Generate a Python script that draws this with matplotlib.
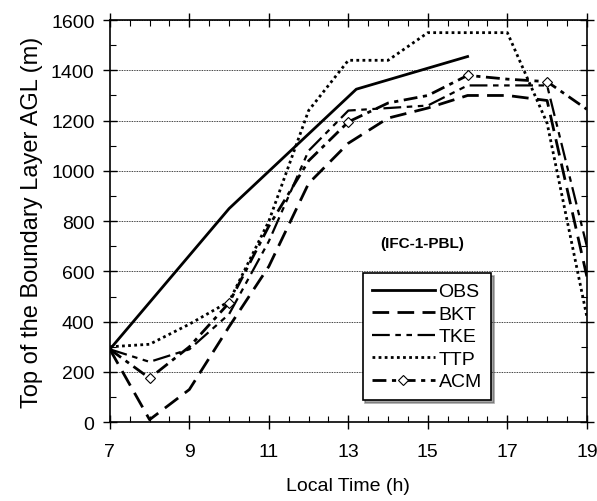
import matplotlib.pyplot as plt
from matplotlib.ticker import MultipleLocator

plt.rcParams['font.family'] = ['Liberation Sans', 'DejaVu Sans']

# Local time (h) and PBL top heights (m)
hours = [7, 8, 9, 10, 11, 12, 13, 14, 15, 16, 17, 18, 19]
obs_t = [7, 10, 13.2, 16]
obs = [290, 850, 1325, 1455]
bkt = [290, 10, 130, 380, 620, 950, 1110, 1210, 1250, 1300, 1300, 1280, 580]
tke = [290, 240, 290, 430, 720, 1080, 1240, 1250, 1260, 1340, 1340, 1340, 700]
ttp = [300, 310, 390, 480, 800, 1240, 1440, 1440, 1550, 1550, 1550, 1190, 420]
acm = [290, 175, 300, 475, 780, 1040, 1195, 1270, 1300, 1380, 1365, 1355, 1245]
acm_marks = [1, 3, 6, 9, 11]
xticks = [7, 9, 11, 13, 15, 17, 19]

fig = plt.figure(figsize=(5.97, 5.02), dpi=100)
ax = fig.add_axes([0.184, 0.157, 0.799, 0.801])

ax.plot(obs_t, obs, color='black', lw=2, ls='-', label='OBS')
ax.plot(hours, bkt, color='black', lw=2, ls=(0, (6, 3)), label='BKT')
ax.plot(hours, tke, color='black', lw=1.6, ls=(0, (8, 2.5, 2.5, 2.5, 2.5, 2.5)), label='TKE')
ax.plot(hours, ttp, color='black', lw=2, ls=(0, (1, 1.2)), label='TTP')
ax.plot(hours, acm, color='black', lw=2, ls=(0, (5, 2, 1.5, 2)), marker='D', ms=5,
        mfc='white', mec='black', mew=0.8, markevery=acm_marks, label='ACM')

ax.set_xlim(7, 19)
ax.set_ylim(0, 1600)
ax.set_xticks(xticks)
ax.xaxis.set_minor_locator(MultipleLocator(0.5))
ax.yaxis.set_major_locator(MultipleLocator(200))
ax.yaxis.set_minor_locator(MultipleLocator(100))
ax.tick_params(which='major', direction='inout', length=10, width=1,
               top=True, right=True, labelsize=14, pad=6)
ax.tick_params(axis='x', which='major', pad=10)
ax.tick_params(which='minor', direction='in', length=4, width=0.8, top=True, right=True)
ax.grid(axis='y', ls=(0, (1, 1)), color='black', lw=0.6)
for sp in ax.spines.values():
    sp.set_linewidth(1.2)

ax.set_xlabel('Local Time (h)', fontsize=14, labelpad=12)
ax.set_ylabel('Top of the Boundary Layer AGL (m)', fontsize=17, labelpad=6)

ax.text(0.655, 0.445, '(IFC-1-PBL)', transform=ax.transAxes, fontsize=11,
        fontweight='bold', ha='center', va='center')
leg = ax.legend(loc='lower left', bbox_to_anchor=(0.53, 0.055), fontsize=14,
                frameon=True, fancybox=False, shadow=True, handlelength=3.2,
                handletextpad=0.2, labelspacing=0.25, borderpad=0.5,
                borderaxespad=0)
leg.get_frame().set_edgecolor('black')
leg.get_frame().set_linewidth(1.2)
leg.get_frame().set_alpha(1)

fig.savefig('out.png', dpi=100)
